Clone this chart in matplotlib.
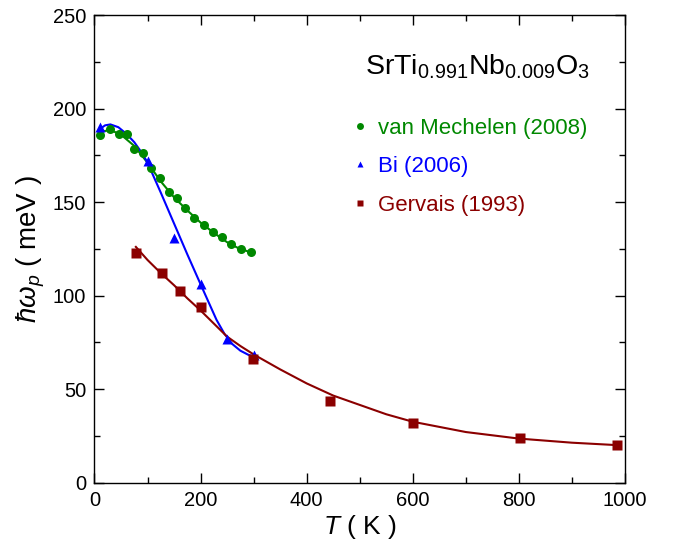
import numpy as np
import matplotlib
matplotlib.use("Agg")
import matplotlib.pyplot as plt
from matplotlib.lines import Line2D
from matplotlib.ticker import MultipleLocator

plt.rcParams['font.family'] = ['Liberation Sans', 'DejaVu Sans']
plt.rcParams['mathtext.fontset'] = 'custom'
plt.rcParams['mathtext.rm'] = 'Liberation Sans'
plt.rcParams['mathtext.it'] = 'Liberation Sans:italic'
plt.rcParams['mathtext.bf'] = 'Liberation Sans:bold'

# van Mechelen (2008)
t_vm = [10, 30, 47, 61, 75, 92, 106, 123, 140, 155, 171, 187, 206, 224, 241, 258, 277, 295]
w_vm = [186, 189, 186.3, 186.3, 178.6, 176, 168, 163, 155.4, 152.2, 146.7, 141.7, 137.6, 134.2, 131.5, 127.4, 124.7, 123.5]
t_vm_fit = [10, 30, 50, 75, 100, 125, 150, 175, 200, 225, 250, 270, 290]
w_vm_fit = [187.5, 188.5, 186, 180, 171, 161, 152.5, 145.5, 139, 133.5, 128.5, 125.5, 123.5]

# Bi (2006)
t_bi = [10, 100, 150, 200, 250, 300]
w_bi = [190, 172, 130.5, 106, 76.5, 68]
t_bi_fit = [10, 20, 30, 45, 60, 75, 90, 100, 125, 150, 175, 200, 215, 230, 245, 260, 275, 290, 300]
w_bi_fit = [189, 191, 191.5, 190, 186.5, 182, 176, 171, 155, 138.5, 122, 106, 96.5, 87, 79.5, 74, 70.5, 68.3, 67.5]

# Gervais (1993)
t_gv = [78, 128, 162, 200, 298, 443, 600, 802, 984]
w_gv = [122.5, 112, 102.2, 94, 66.2, 43.5, 32, 24, 20]
t_gv_fit = [78, 100, 125, 150, 175, 200, 225, 250, 275, 300, 350, 400, 450, 500, 550, 600, 700, 800, 900, 985]
w_gv_fit = [126, 119, 112, 105.5, 98.5, 92, 85, 78, 73, 68.5, 60.5, 53, 46.5, 41.5, 36.5, 32.5, 27, 23.5, 21.3, 20]

c_vm = '#008800'
c_bi = '#0000ff'
c_gv = '#8b0000'

fig = plt.figure(figsize=(6.73, 5.44), dpi=100)
ax = fig.add_axes([0.1404, 0.113, 0.7883, 0.8594])

ax.plot(t_vm_fit, w_vm_fit, color=c_vm, lw=1.5)
ax.plot(t_bi_fit, w_bi_fit, color=c_bi, lw=1.5)
ax.plot(t_gv_fit, w_gv_fit, color=c_gv, lw=1.5)
ax.plot(t_vm, w_vm, 'o', color=c_vm, ms=6.5, mec='none')
ax.plot(t_bi, w_bi, '^', color=c_bi, ms=7, mec='none')
ax.plot(t_gv, w_gv, 's', color=c_gv, ms=6.5, mec='none')

ax.set_xlim(0, 1000)
ax.set_ylim(0, 250)
ax.xaxis.set_major_locator(MultipleLocator(200))
ax.xaxis.set_minor_locator(MultipleLocator(100))
ax.yaxis.set_major_locator(MultipleLocator(50))
ax.yaxis.set_minor_locator(MultipleLocator(25))
ax.tick_params(which='both', direction='in', top=True, right=True, width=1)
ax.tick_params(which='major', length=7, labelsize=14.5, pad=6)
ax.tick_params(which='minor', length=4)
for s in ax.spines.values():
    s.set_linewidth(1)

ax.set_xlabel(r'$T$ ( K )', fontsize=19, labelpad=2)
ax.set_ylabel(r'$\hbar\omega_p$ ( meV )', fontsize=20, labelpad=4)

ax.text(0.51, 0.872, r'SrTi$_{0.991}$Nb$_{0.009}$O$_3$', transform=ax.transAxes,
        fontsize=20.5, va='baseline', ha='left')

handles = [Line2D([], [], ls='none', marker='o', color=c_vm, ms=5, mec='none'),
           Line2D([], [], ls='none', marker='^', color=c_bi, ms=5, mec='none'),
           Line2D([], [], ls='none', marker='s', color=c_gv, ms=5, mec='none')]
labels = ['van Mechelen (2008)', 'Bi (2006)', 'Gervais (1993)']
ax.legend(handles, labels, loc='upper left', bbox_to_anchor=(0.488, 0.78),
          frameon=False, fontsize=16, handlelength=0.6, handletextpad=0.5,
          labelspacing=0.78, borderpad=0, borderaxespad=0, labelcolor='linecolor')

fig.savefig('out.png', dpi=100)
